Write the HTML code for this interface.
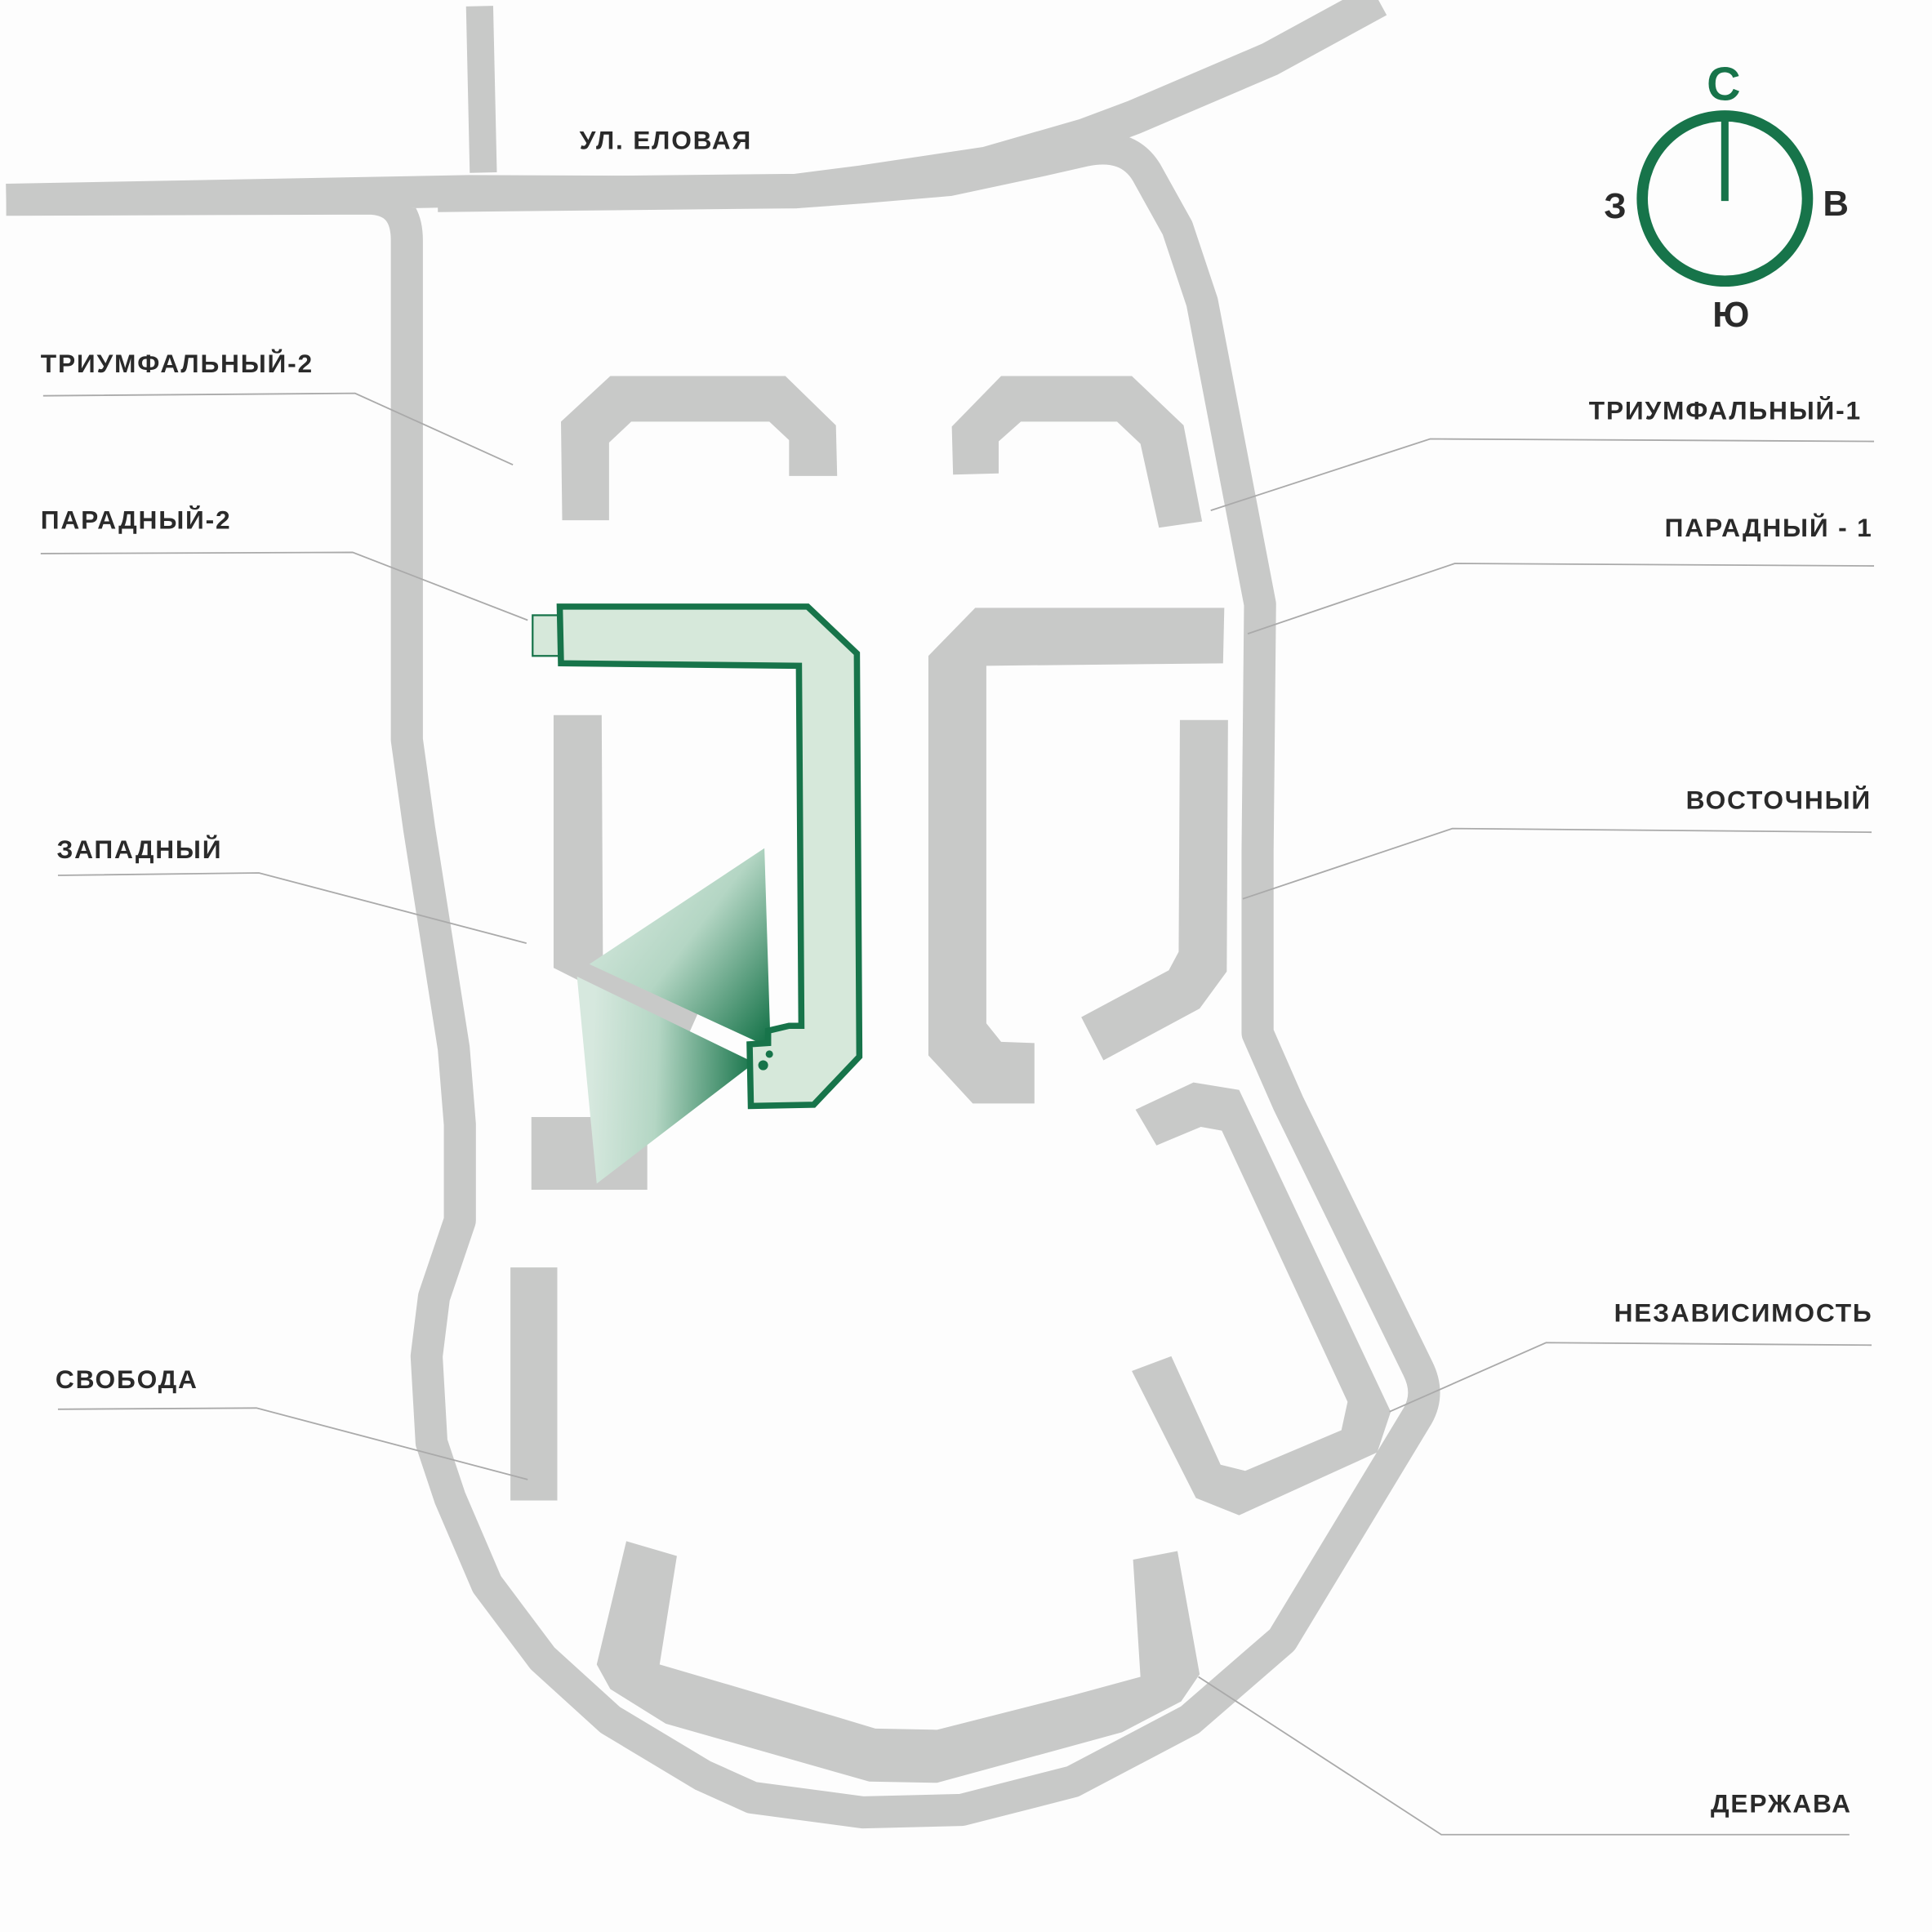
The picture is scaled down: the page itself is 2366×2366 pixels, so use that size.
<!DOCTYPE html>
<html><head><meta charset="utf-8"><style>
html,body{margin:0;padding:0;background:#fdfdfd;}
svg{display:block;}
text{font-family:"Liberation Sans",sans-serif;font-weight:bold;fill:#2a2a2a;}
</style></head><body>
<svg width="2366" height="2366" viewBox="0 0 1567 1567" xmlns="http://www.w3.org/2000/svg">
<defs>
<linearGradient id="g1" x1="480" y1="730" x2="625" y2="840" gradientUnits="userSpaceOnUse">
<stop offset="0" stop-color="#d6e8de"/><stop offset="0.45" stop-color="#b4d6c4"/><stop offset="1" stop-color="#17744a"/></linearGradient>
<linearGradient id="g2" x1="480" y1="860" x2="612" y2="865" gradientUnits="userSpaceOnUse">
<stop offset="0" stop-color="#d6e8de"/><stop offset="0.4" stop-color="#b4d6c4"/><stop offset="1" stop-color="#17744a"/></linearGradient>
</defs>
<rect width="1567" height="1567" fill="#fdfdfd"/>
<g fill="none" stroke="#c8c9c8" stroke-linejoin="round">
<path d="M5,162 L300,161 Q330,162 330,195 L330,600 L340,672 L368,850 L373,912 L373,990 L352,1052 L346,1100 L350,1170 L365,1215 L395,1285 L440,1345 L495,1395 L570,1440 L610,1458 L700,1470 L780,1468 L870,1445 L965,1395 L1040,1330 L1150,1148 Q1160,1130 1150,1110 L1045,895 L1020,838 L1020,690 L1022,490 L975,245 L955,185 L930,140 Q915,115 880,122 L845,130 L770,146 L700,152 L645,156 L380,155 L5,162" stroke-width="26"/>
<path d="M355,158 L645,155 L700,148 L800,133 L880,110 L920,95 L1030,48 L1118,0" stroke-width="28"/>
<path d="M389,5 L392,140" stroke-width="22"/>
</g>
<g fill="#c8c9c8">
<polygon points="455,342 495,305 637,305 678,345 679,386 640,386 640,357 624,342 512,342 494,359 494,422 456,422"/>
<polygon points="772,346 812,305 918,305 960,345 975,423 940,428 925,360 906,342 828,342 810,358 810,384 773,385"/>
<polygon points="449,580 488,580 489,780 566,822 558,840 449,785"/>
<rect x="431" y="906" width="94" height="59"/>
<rect x="414" y="1028" width="38" height="189"/>
<polygon points="753,532 791,493 993,493 992,538 800,540 800,830 812,845 839,846 839,895 789,895 753,856"/>
<polygon points="957,584 996,584 995,788 973,818 895,860 877,825 948,787 956,772"/>
<polygon points="921,900 968,878 1005,884 1128,1145 1117,1178 1005,1229 970,1215 918,1112 950,1100 990,1188 1010,1193 1088,1160 1093,1137 991,917 974,914 938,929"/>
<polygon points="508,1250 549,1262 535,1350 610,1372 710,1402 760,1403 870,1375 925,1360 919,1265 955,1258 973,1358 958,1380 910,1405 760,1446 705,1445 540,1398 495,1370 484,1350"/>
</g>
<polygon points="478,782 620,688 625,850" fill="url(#g1)"/>
<polygon points="468,792 612,862 484,960" fill="url(#g2)"/>
<rect x="432" y="499" width="22" height="33" fill="#d6e8da" stroke="#17744a" stroke-width="1.5"/>
<polygon points="454,492 655,492 695,530 697,857 660,896 609,897 608,847 623,846 623,836 640,832 650,832 648,540 455,538" fill="#d6e8da" stroke="#17744a" stroke-width="5" stroke-linejoin="miter"/>
<g fill="#17744a"><circle cx="619" cy="864" r="4"/><circle cx="624" cy="855" r="3"/></g>
<g fill="none" stroke="#aaaaaa" stroke-width="1.2">
<polyline points="35,321 288,319 416,377"/>
<polyline points="33,449 286,448 428,503"/>
<polyline points="47,710 210,708 427,765"/>
<polyline points="47,1143 208,1142 428,1200"/>
<polyline points="1520,358 1160,356 982,414"/>
<polyline points="1520,459 1180,457 1012,514"/>
<polyline points="1518,675 1178,672 1008,729"/>
<polyline points="1518,1091 1254,1089 1127,1145"/>
<polyline points="1500,1488 1169,1488 972,1360"/>
</g>
<g font-size="21" letter-spacing="1.2">
<text x="470" y="121">УЛ. ЕЛОВАЯ</text>
<text x="33" y="302">ТРИУМФАЛЬНЫЙ-2</text>
<text x="33" y="429">ПАРАДНЫЙ-2</text>
<text x="46" y="696">ЗАПАДНЫЙ</text>
<text x="45" y="1126">СВОБОДА</text>
<text x="1510" y="340" text-anchor="end">ТРИУМФАЛЬНЫЙ-1</text>
<text x="1519" y="435" text-anchor="end">ПАРАДНЫЙ - 1</text>
<text x="1518" y="656" text-anchor="end">ВОСТОЧНЫЙ</text>
<text x="1519" y="1072" text-anchor="end">НЕЗАВИСИМОСТЬ</text>
<text x="1502" y="1470" text-anchor="end">ДЕРЖАВА</text>
</g>
<circle cx="1399" cy="161" r="67" fill="none" stroke="#17744a" stroke-width="9"/>
<line x1="1399" y1="97" x2="1399" y2="163" stroke="#17744a" stroke-width="6"/>
<text x="1398" y="81" font-size="38" text-anchor="middle" style="fill:#17744a">С</text>
<text x="1310" y="177" font-size="29" text-anchor="middle">З</text>
<text x="1489" y="175" font-size="29" text-anchor="middle">В</text>
<text x="1404" y="265" font-size="29" text-anchor="middle">Ю</text>
</svg>
</body></html>
